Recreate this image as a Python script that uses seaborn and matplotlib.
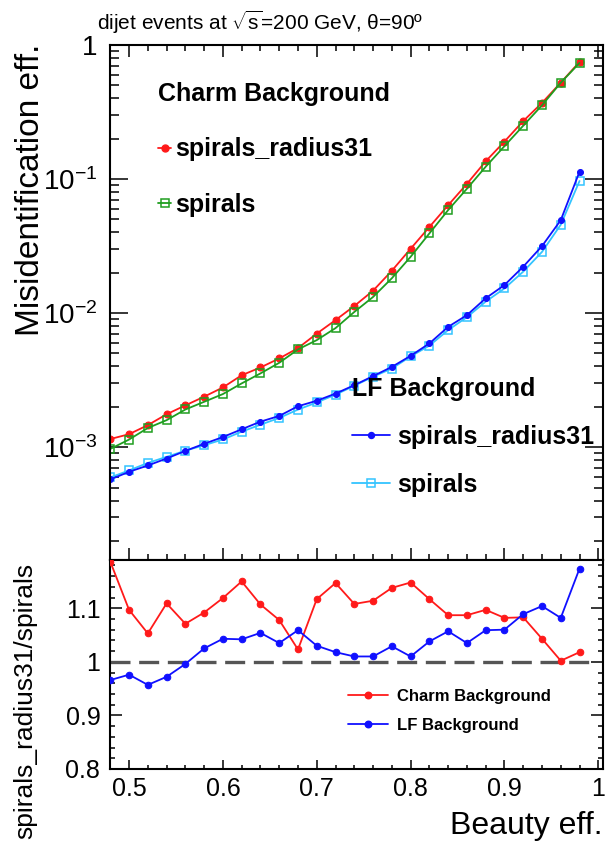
import matplotlib
matplotlib.use("Agg")
import matplotlib.pyplot as plt
import seaborn as sns
from matplotlib.lines import Line2D
from matplotlib.ticker import (FixedLocator, FixedFormatter, LogLocator,
                               NullFormatter, MultipleLocator, FuncFormatter)

# ---- data -------------------------------------------------------------
beauty_eff = [0.48, 0.50, 0.52, 0.54, 0.56, 0.58, 0.60, 0.62, 0.64, 0.66,
              0.68, 0.70, 0.72, 0.74, 0.76, 0.78, 0.80, 0.82, 0.84, 0.86,
              0.88, 0.90, 0.92, 0.94, 0.96, 0.98]

charm_radius31 = [1.15e-3, 1.25e-3, 1.46e-3, 1.76e-3, 2.05e-3, 2.38e-3, 2.79e-3,
                  3.44e-3, 3.93e-3, 4.59e-3, 5.48e-3, 7.03e-3, 8.87e-3, 1.13e-2,
                  1.47e-2, 2.07e-2, 3.02e-2, 4.39e-2, 6.38e-2, 9.21e-2, 0.1356,
                  0.1904, 0.2708, 0.370, 0.524, 0.748]
charm_spirals = [9.7e-4, 1.14e-3, 1.39e-3, 1.59e-3, 1.91e-3, 2.18e-3, 2.49e-3,
                 2.99e-3, 3.55e-3, 4.26e-3, 5.36e-3, 6.29e-3, 7.73e-3, 1.02e-2,
                 1.32e-2, 1.82e-2, 2.63e-2, 3.93e-2, 5.87e-2, 8.47e-2, 0.1236,
                 0.176, 0.250, 0.355, 0.523, 0.735]
lf_radius31 = [5.74e-4, 6.55e-4, 7.30e-4, 8.23e-4, 9.38e-4, 1.06e-3, 1.19e-3,
               1.36e-3, 1.55e-3, 1.71e-3, 2.02e-3, 2.22e-3, 2.51e-3, 2.90e-3,
               3.39e-3, 3.97e-3, 4.80e-3, 5.94e-3, 7.90e-3, 9.66e-3, 1.29e-2,
               1.62e-2, 2.22e-2, 3.16e-2, 4.94e-2, 0.1135]
lf_spirals = [5.94e-4, 6.71e-4, 7.63e-4, 8.47e-4, 9.42e-4, 1.034e-3, 1.141e-3,
              1.305e-3, 1.471e-3, 1.652e-3, 1.907e-3, 2.155e-3, 2.466e-3, 2.871e-3,
              3.356e-3, 3.858e-3, 4.752e-3, 5.72e-3, 7.47e-3, 9.33e-3, 1.218e-2,
              1.528e-2, 2.039e-2, 2.862e-2, 4.566e-2, 0.0967]

ratio_charm = [1.187, 1.097, 1.053, 1.109, 1.071, 1.092, 1.119, 1.150, 1.107, 1.078,
               1.023, 1.117, 1.147, 1.108, 1.114, 1.138, 1.148, 1.117, 1.087, 1.087,
               1.097, 1.082, 1.083, 1.043, 1.002, 1.018]
ratio_lf = [0.966, 0.976, 0.957, 0.972, 0.996, 1.025, 1.043, 1.042, 1.054, 1.035,
            1.059, 1.030, 1.018, 1.010, 1.010, 1.029, 1.010, 1.038, 1.057, 1.035,
            1.059, 1.060, 1.089, 1.104, 1.082, 1.174]

top_ticks = [1e-3, 1e-2, 1e-1, 1.0]
top_tick_labels = ["$10^{-3}$", "$10^{-2}$", "$10^{-1}$", "1"]

# ---- style ------------------------------------------------------------
sns.set_theme(style="ticks")
plt.rcParams["font.family"] = ["Liberation Sans", "DejaVu Sans"]
plt.rcParams["mathtext.fontset"] = "custom"
plt.rcParams["mathtext.rm"] = "Liberation Sans"
plt.rcParams["mathtext.it"] = "Liberation Sans:italic"
plt.rcParams["mathtext.bf"] = "Liberation Sans:bold"
plt.rcParams["axes.linewidth"] = 1.5
for key in ("text.color", "axes.labelcolor", "xtick.color", "ytick.color",
            "axes.edgecolor", "xtick.labelcolor", "ytick.labelcolor"):
    plt.rcParams[key] = "black"

RED = "#ff1a1a"
GREEN = "#1f9e1f"
BLUE = "#1010ff"
LIGHT = "#33c4ff"

fig = plt.figure(figsize=(6.15, 8.44), dpi=100)
W, H = 615.0, 844.0
L, R = 110, 603
ax_top = fig.add_axes([L / W, 1 - 560 / H, (R - L) / W, (560 - 45) / H])
ax_bot = fig.add_axes([L / W, 1 - 769 / H, (R - L) / W, (769 - 560) / H])

# ---- upper panel: misidentification efficiencies -----------------------
line_kw = dict(linewidth=1.3, legend=False, ax=ax_top)
sns.lineplot(x=beauty_eff, y=lf_spirals, color=LIGHT, marker="s", markersize=5.5,
             markerfacecolor="none", markeredgecolor=LIGHT, markeredgewidth=1.1, **line_kw)
sns.lineplot(x=beauty_eff, y=lf_radius31, color=BLUE, marker="o", markersize=4.3,
             markerfacecolor=BLUE, markeredgecolor=BLUE, **line_kw)
sns.lineplot(x=beauty_eff, y=charm_radius31, color=RED, marker="o", markersize=5,
             markerfacecolor=RED, markeredgecolor=RED, **line_kw)
sns.lineplot(x=beauty_eff, y=charm_spirals, color=GREEN, marker="s", markersize=6,
             markerfacecolor="none", markeredgecolor=GREEN, markeredgewidth=1.1, **line_kw)

ax_top.set_yscale("log")
ax_top.set_xlim(0.4797, 1.005)
ax_top.set_ylim(1.44e-4, 1.0)
ax_top.yaxis.set_major_locator(FixedLocator(top_ticks))
ax_top.yaxis.set_major_formatter(FixedFormatter(top_tick_labels))
ax_top.yaxis.set_minor_locator(LogLocator(base=10, subs=range(2, 10), numticks=20))
ax_top.yaxis.set_minor_formatter(NullFormatter())
ax_top.xaxis.set_major_locator(MultipleLocator(0.1))
ax_top.xaxis.set_minor_locator(MultipleLocator(0.02))
ax_top.tick_params(which="both", direction="in", top=True, right=True,
                   labelbottom=False, width=1.1, color="black")
ax_top.tick_params(axis="y", which="major", length=13, labelsize=20, pad=9)
ax_top.tick_params(axis="y", which="minor", length=6.5)
ax_top.tick_params(axis="x", which="major", length=8.5)
ax_top.tick_params(axis="x", which="minor", length=4.3)
ax_top.set_xlabel("")
ax_top.set_ylabel("")

bold18 = {"weight": "bold", "size": 18}
charm_handles = [
    Line2D([], [], color=RED, marker="o", markersize=5, lw=1.3),
    Line2D([], [], color=GREEN, marker="s", markersize=6, markerfacecolor="none",
           markeredgewidth=1.1, lw=1.3),
]
leg1 = ax_top.legend(charm_handles, ["spirals_radius31", "spirals"],
                     title="Charm Background", title_fontproperties=bold18, prop=bold18,
                     loc="upper left", bbox_to_anchor=(0.0974, 0.928), frameon=False,
                     alignment="left", handlelength=0.52, handletextpad=0.16,
                     labelspacing=1.25, borderpad=0, borderaxespad=0, numpoints=1)
ax_top.add_artist(leg1)
lf_handles = [
    Line2D([], [], color=BLUE, marker="o", markersize=4.3, lw=1.3),
    Line2D([], [], color=LIGHT, marker="s", markersize=5.5, markerfacecolor="none",
           markeredgewidth=1.1, lw=1.3),
]
ax_top.legend(lf_handles, ["spirals_radius31", "spirals"],
              title="LF Background", title_fontproperties=bold18, prop=bold18,
              loc="upper left", bbox_to_anchor=(0.491, 0.355), frameon=False,
              alignment="left", handlelength=1.52, handletextpad=0.28,
              labelspacing=0.95, borderpad=0, borderaxespad=0, numpoints=1)

# ---- lower panel: ratio radius31 / spirals -----------------------------
ax_bot.hlines(1.0, beauty_eff[0], 0.99, colors="#555555", linewidth=2.4,
              linestyles=(0, (6, 2.6)), zorder=1)
sns.lineplot(x=beauty_eff, y=ratio_charm, color=RED, marker="o", markersize=4.7,
             markerfacecolor=RED, markeredgecolor=RED, linewidth=1.3, legend=False,
             ax=ax_bot, zorder=3)
sns.lineplot(x=beauty_eff, y=ratio_lf, color=BLUE, marker="o", markersize=4.7,
             markerfacecolor=BLUE, markeredgecolor=BLUE, linewidth=1.3, legend=False,
             ax=ax_bot, zorder=3)

ax_bot.set_xlim(0.4797, 1.005)
ax_bot.set_ylim(0.8, 1.19)
ax_bot.xaxis.set_major_locator(MultipleLocator(0.1))
ax_bot.xaxis.set_minor_locator(MultipleLocator(0.02))
ax_bot.yaxis.set_major_locator(MultipleLocator(0.1))
ax_bot.yaxis.set_minor_locator(MultipleLocator(0.02))
fmt = FuncFormatter(lambda v, _: f"{round(v, 2):g}")
ax_bot.xaxis.set_major_formatter(fmt)
ax_bot.yaxis.set_major_formatter(fmt)
ax_bot.tick_params(which="both", direction="in", top=False, right=True,
                   width=1.1, color="black", labelsize=18)
ax_bot.tick_params(axis="y", which="major", length=8.6, pad=7)
ax_bot.tick_params(axis="y", which="minor", length=3.6)
ax_bot.tick_params(axis="x", which="major", length=6.5, pad=6)
ax_bot.tick_params(axis="x", which="minor", length=3.2)
ax_bot.set_xlabel("")
ax_bot.set_ylabel("")

bold12 = {"weight": "bold", "size": 12}
ratio_handles = [
    Line2D([], [], color=RED, marker="o", markersize=4.7, lw=1.3),
    Line2D([], [], color=BLUE, marker="o", markersize=4.7, lw=1.3),
]
ax_bot.legend(ratio_handles, ["Charm Background", "LF Background"], prop=bold12,
              loc="upper left", bbox_to_anchor=(0.483, 0.385), frameon=False,
              handlelength=2.4, handletextpad=0.55, labelspacing=0.85,
              borderpad=0, borderaxespad=0, numpoints=1)

# ---- titles and axis labels ------------------------------------------
fig.text(97 / W, 1 - 22 / H, r"dijet events at $\sqrt{\mathrm{s}}$=200 GeV, θ=90º",
         fontsize=15, ha="left", va="center")
fig.text(31 / W, 1 - 190 / H, "Misidentification eff.", rotation=90,
         fontsize=24, ha="center", va="center")
fig.text(25 / W, 1 - 701 / H, "spirals_radius31/spirals", rotation=90,
         fontsize=19, ha="center", va="center")
fig.text(603 / W, 1 - 826 / H, "Beauty eff.", fontsize=23, ha="right", va="center")

fig.savefig("out.png", dpi=100)
